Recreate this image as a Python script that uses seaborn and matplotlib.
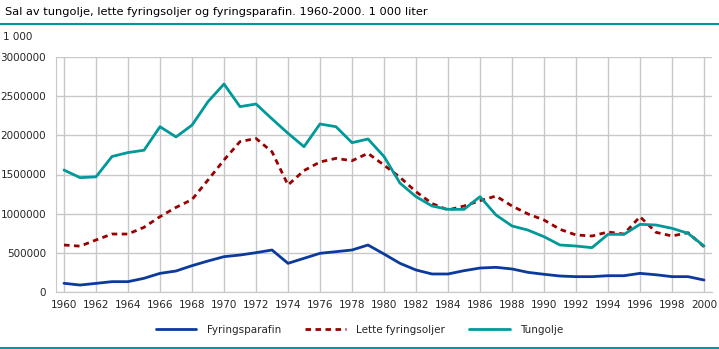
import numpy as np
import pandas as pd
import matplotlib
matplotlib.use("Agg")
import matplotlib.pyplot as plt
import seaborn as sns
from matplotlib.lines import Line2D

years = list(range(1960, 2001))

fyringsparafin = [111000, 89000, 110000, 132000, 132000, 175000, 238000, 268000, 336000, 396000,
                  451000, 472000, 502000, 536000, 366000, 430000, 494000, 515000, 536000, 600000,
                  485000, 366000, 281000, 230000, 230000, 272000, 306000, 315000, 294000, 251000,
                  226000, 204000, 196000, 196000, 208000, 208000, 238000, 220000, 196000, 196000,
                  153000]

lette = [600000, 585000, 664000, 740000, 740000, 826000, 962000, 1080000, 1180000, 1430000,
         1685000, 1920000, 1960000, 1790000, 1366000, 1550000, 1660000, 1706000, 1676000, 1770000,
         1620000, 1464000, 1280000, 1130000, 1047000, 1098000, 1166000, 1225000, 1098000, 996000,
         919000, 800000, 728000, 715000, 766000, 740000, 962000, 762000, 715000, 757000,
         578000]

tungolje = [1557000, 1460000, 1470000, 1730000, 1780000, 1810000, 2110000, 1980000, 2130000, 2430000,
            2655000, 2366000, 2400000, 2210000, 2026000, 1855000, 2145000, 2110000, 1906000, 1953000,
            1730000, 1390000, 1217000, 1098000, 1055000, 1055000, 1217000, 983000, 843000, 790000,
            706000, 600000, 587000, 566000, 736000, 736000, 864000, 855000, 813000, 749000,
            587000]

series_names = ["Fyringsparafin", "Lette fyringsoljer", "Tungolje"]
colors = {"Fyringsparafin": "#0a3a9c", "Lette fyringsoljer": "#990000", "Tungolje": "#009999"}

df = pd.DataFrame({
    "year": years * 3,
    "value": fyringsparafin + lette + tungolje,
    "series": [series_names[0]] * len(years) + [series_names[1]] * len(years) + [series_names[2]] * len(years),
})

sns.set_style("white")
plt.rcParams["font.family"] = ["DejaVu Sans"]

fig = plt.figure(figsize=(7.19, 3.49), dpi=100)
ax = fig.add_axes([56 / 719, 1 - 292 / 349, (712 - 56) / 719, (292 - 57) / 349])

sns.lineplot(data=df, x="year", y="value", hue="series", style="series",
             palette=colors, dashes={"Fyringsparafin": "", "Lette fyringsoljer": (2, 1.6), "Tungolje": ""},
             linewidth=2, ax=ax, legend=False)

ax.set_xlim(1959.5, 2000.5)
ax.set_ylim(0, 3000000)
ax.set_xticks(list(range(1960, 2001, 2)))
ax.set_xticks(list(range(1961, 2000, 2)), minor=True)
ax.set_yticks([0, 500000, 1000000, 1500000, 2000000, 2500000, 3000000])
ax.set_yticklabels(["0", "500000", "1000000", "1500000", "2000000", "2500000", "3000000"])
ax.set_xlabel("")
ax.set_ylabel("")
ax.grid(True, which="major", color="#c8c8c8", linewidth=1)
ax.set_axisbelow(True)
for s in ["top", "right"]:
    ax.spines[s].set_visible(False)
ax.spines["left"].set_color("#c8c8c8")
ax.spines["bottom"].set_color("#c8c8c8")
ax.tick_params(axis="x", which="both", length=4, color="#c8c8c8", labelsize=7.5, pad=1.5, direction="out")
ax.tick_params(axis="y", length=0, labelsize=7.5, pad=7)

fig.text(5 / 719, 1 - 12 / 349, "Sal av tungolje, lette fyringsoljer og fyringsparafin. 1960-2000. 1 000 liter",
         fontsize=8.2, va="center", ha="left", color="#000000")
fig.text(3 / 719, 1 - 37 / 349, "1 000", fontsize=7.5, va="center", ha="left")

fig.add_artist(Line2D([0, 1], [1 - 23.5 / 349] * 2, color="#009999", linewidth=1.5, transform=fig.transFigure))
fig.add_artist(Line2D([0, 1], [1 - 347.5 / 349] * 2, color="#009999", linewidth=1.5, transform=fig.transFigure))

handles = [Line2D([], [], color=colors[n], linewidth=2, linestyle=("-" if n != "Lette fyringsoljer" else (0, (2, 1.6))))
           for n in series_names]
fig.legend(handles, series_names, loc="center", bbox_to_anchor=(0.5, 1 - 330 / 349), ncol=3, frameon=False,
           fontsize=7.5, handlelength=3.9, columnspacing=2.3, handletextpad=1)

fig.savefig("out.png", dpi=100)
